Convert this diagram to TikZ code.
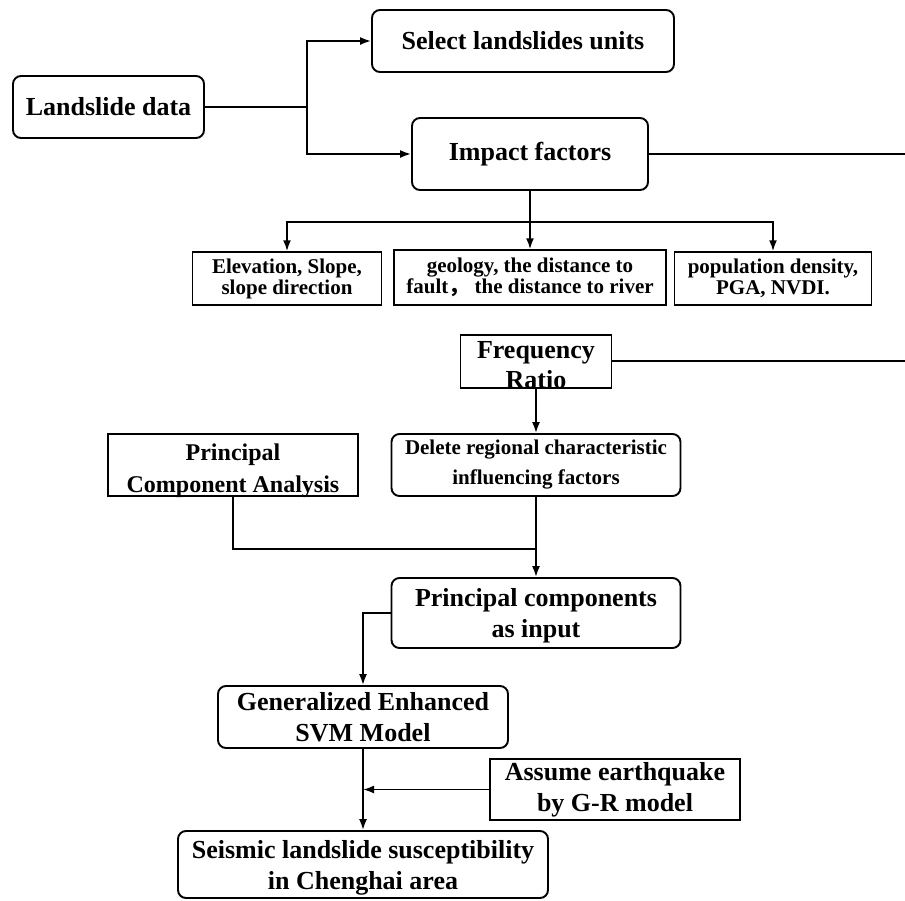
\documentclass[tikz,border=0pt]{standalone}
\usepackage{fontspec}
\setmainfont{Liberation Serif}
\newfontfamily\cjkfont{Noto Sans CJK SC}
\usetikzlibrary{arrows.meta}
\begin{document}
\begin{tikzpicture}[x=1pt,y=-1pt,
  every node/.style={inner sep=0pt, align=center, font=\bfseries},
  rbox/.style={draw, line width=1.9pt, rounded corners=8pt},
  sbox/.style={draw, line width=1.5pt},
  big/.style={font=\fontsize{26}{31}\selectfont\bfseries},
  mid/.style={font=\fontsize{24}{32}\selectfont\bfseries},
  small/.style={font=\fontsize{21}{30}\selectfont\bfseries},
  tiny/.style={font=\fontsize{21}{21}\selectfont\bfseries},
  conn/.style={line width=1.8pt},
  arr/.style={conn, -{Latex[length=11pt,width=8pt]}}
]
\useasboundingbox (0,0) rectangle (905,900);

\node[rbox, big, minimum width=191pt, minimum height=62pt] (land) at (108.5,107) {Landslide data};
\node[rbox, big, minimum width=302pt, minimum height=62pt] (select) at (523,41) {Select landslides units};
\node[rbox, big, minimum width=236pt, minimum height=72pt] (impact) at (530,154) {Impact factors};

\node[sbox, tiny, minimum width=189pt, minimum height=53pt] (elev) at (287,278.5) {Elevation, Slope,\\slope direction};
\node[sbox, tiny, minimum width=272pt, minimum height=55pt] (geo) at (530,277.5) {geology, the distance to\\fault{\cjkfont ，}\ the distance to river};
\node[sbox, tiny, minimum width=197pt, minimum height=53pt] (pop) at (773,278.5) {population density,\\PGA, NVDI.};

\node[sbox, minimum width=151pt, minimum height=53pt] (freq) at (536,361.5) {};
\node[font=\fontsize{26}{30}\selectfont\bfseries] (freqT) at (536,365) {Frequency\\Ratio};
\node[sbox, minimum width=250pt, minimum height=62pt] (pca) at (233,465) {};
\node[mid] (pcaT) at (233,471) {Principal\\Component Analysis};
\node[rbox, small, minimum width=289pt, minimum height=62pt] (del) at (536,465) {Delete regional characteristic\\influencing factors};
\node[rbox, minimum width=289pt, minimum height=70pt] (pc) at (536,613) {};
\node[big] (pcT) at (536,616) {Principal components\\as input};
\node[rbox, big, minimum width=290pt, minimum height=62pt] (svm) at (363,717) {Generalized Enhanced\\SVM Model};
\node[sbox, big, minimum width=250pt, minimum height=61pt] (assume) at (615,789.5) {Assume earthquake\\by G-R model};
\node[rbox, minimum width=370pt, minimum height=67pt] (seis) at (363,864.5) {};
\node[big] (seisT) at (363,867.5) {Seismic landslide susceptibility\\in Chenghai area};

\coordinate (split) at (307,107);
\coordinate (rightA) at (905,154);
\coordinate (j1) at (530,222);
\coordinate (rightB) at (905,361);
\coordinate (j2) at (536,549);

\draw[conn] (land.east) -- (split);
\draw[arr] (split) |- (select.west);
\draw[arr] (split) |- (impact.west);
\draw[conn] (impact.east) -- (rightA);
\draw[conn] (impact.south) -- (j1);
\draw[arr] (j1) -| (elev.north);
\draw[arr] (j1) -| (pop.north);
\draw[arr] (j1) -- (geo.north);
\draw[conn] (freq.east |- rightB) -- (rightB);
\draw[arr] (freq.south) -- (del.north);
\draw[conn] (pca.south) |- (j2);
\draw[arr] (del.south) -- (pc.north);
\draw[arr] (pc.west) -| (svm.north);
\draw[arr] (svm.south) -- (seis.north);
\draw[arr] (assume.west) -- (svm.south |- assume.west);
\end{tikzpicture}
\end{document}
